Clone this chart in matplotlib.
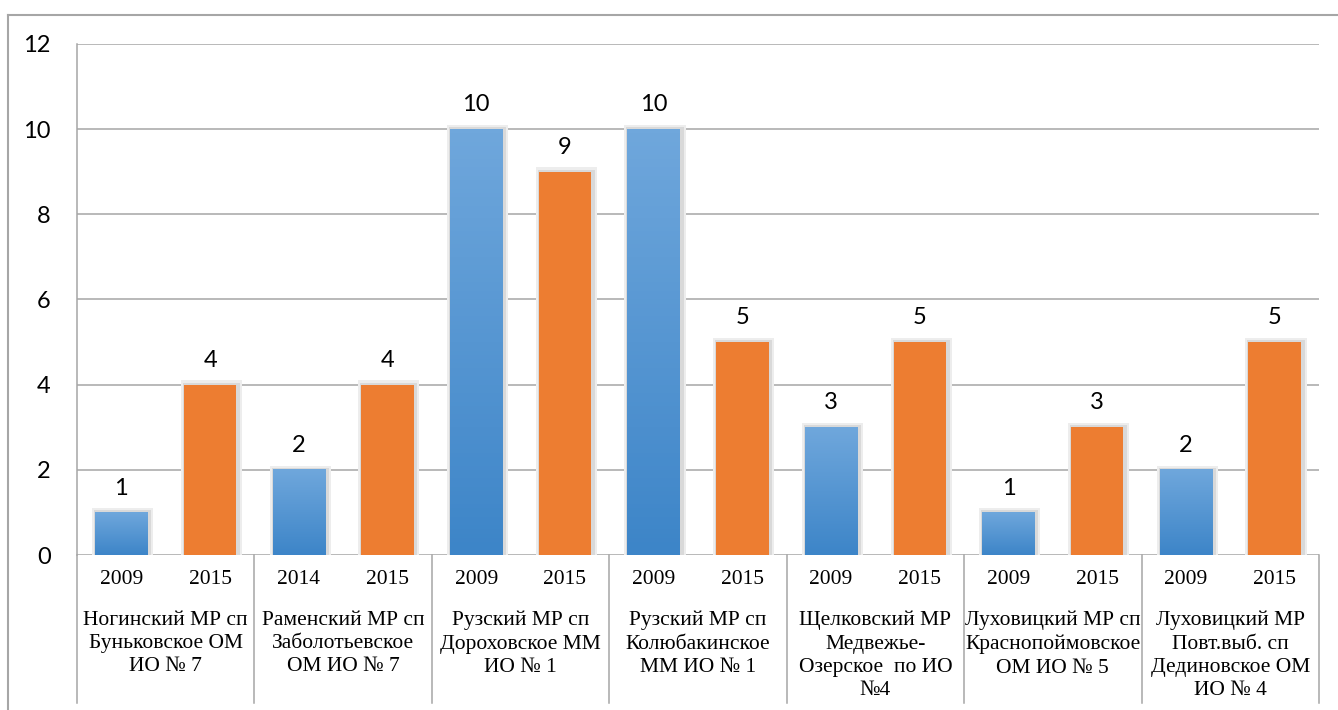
import numpy as np
import matplotlib
matplotlib.use("Agg")
import matplotlib.pyplot as plt
from matplotlib.lines import Line2D
from matplotlib.colors import LinearSegmentedColormap

# chart data
groups = [
    "Ногинский МР сп\nБуньковское ОМ\nИО № 7",
    "Раменский МР сп\nЗаболотьевское\nОМ ИО № 7",
    "Рузский МР сп\nДороховское ММ\nИО № 1",
    "Рузский МР сп\nКолюбакинское\nММ ИО № 1",
    "Щелковский МР\nМедвежье-\nОзерское  по ИО\n№4",
    "Луховицкий МР сп\nКраснопоймовское\nОМ ИО № 5",
    "Луховицкий МР\nПовт.выб. сп\nДединовское ОМ\nИО № 4",
]
years = ["2009", "2015", "2014", "2015", "2009", "2015", "2009",
         "2015", "2009", "2015", "2009", "2015", "2009", "2015"]
values = [1, 4, 2, 4, 10, 9, 10, 5, 3, 5, 1, 3, 2, 5]

W, H = 1338, 710
fig = plt.figure(figsize=(W / 100, H / 100), dpi=100)
ax = fig.add_axes([77 / W, 1 - 555 / H, (1319 - 77) / W, (555 - 44) / H])

grid_col = "#a6a6a6"
orange = "#ed7d31"
blue_cmap = LinearSegmentedColormap.from_list("blu", ["#3d85c8", "#6fa7dc"])

n = len(values)
x = np.arange(n)
bw = 0.59

for yv in range(0, 13, 2):
    ax.axhline(yv, color=grid_col, lw=1.1, zorder=0)

grad = np.linspace(0, 1, 100).reshape(-1, 1)
for i, v in enumerate(values):
    # soft shadow around the bar
    ax.bar(x[i] + 0.015, v + 0.1, width=bw + 0.1, color="#ededed", zorder=1)
    ax.bar(x[i] + 0.015, v + 0.05, width=bw + 0.055, color="#d9d9d9", zorder=1.5)
    if i % 2 == 0:
        ax.imshow(grad, cmap=blue_cmap, origin="lower", aspect="auto",
                  extent=(x[i] - bw / 2, x[i] + bw / 2, 0, v), zorder=2)
    else:
        ax.bar(x[i], v, width=bw, color=orange, zorder=2)
    ax.annotate(str(v), (x[i], v), xytext=(0, 10), textcoords="offset points",
                ha="center", va="bottom", fontsize=17, family="Lato", color="black")

ax.set_xlim(-0.5, n - 0.5)
ax.set_ylim(0, 12)
ax.set_yticks(range(0, 13, 2))
ax.set_yticklabels([str(t) for t in range(0, 13, 2)], fontsize=17, family="Lato")
ax.tick_params(axis="y", length=0, pad=19)
ax.set_xticks([])
for s in ["top", "right", "bottom"]:
    ax.spines[s].set_visible(False)
ax.spines["left"].set_color(grid_col)
ax.spines["left"].set_linewidth(1.1)

# two-level category axis
trans = ax.get_xaxis_transform()
for i, yr in enumerate(years):
    ax.text(x[i], -(579 - 555) / 511, yr, transform=trans, ha="center", va="center",
            fontsize=15.5, family="Liberation Serif")
for g, name in enumerate(groups):
    ax.text(2 * g + 0.5, -(611 - 555) / 511, name, transform=trans, ha="center", va="top",
            fontsize=15.5, family="Liberation Serif", linespacing=1.3)
for b in range(len(groups) + 1):
    ax.add_line(Line2D([2 * b - 0.5] * 2, [0, -(703 - 555) / 511], transform=trans,
                       color=grid_col, lw=1.1, clip_on=False))

# outer frame of the chart area
fig.add_artist(Line2D([8 / W, 1], [1 - 15 / H] * 2, color=grid_col, lw=1.5))
fig.add_artist(Line2D([8 / W] * 2, [0, 1 - 15 / H], color=grid_col, lw=1.5))

fig.savefig("out.png", dpi=100)
